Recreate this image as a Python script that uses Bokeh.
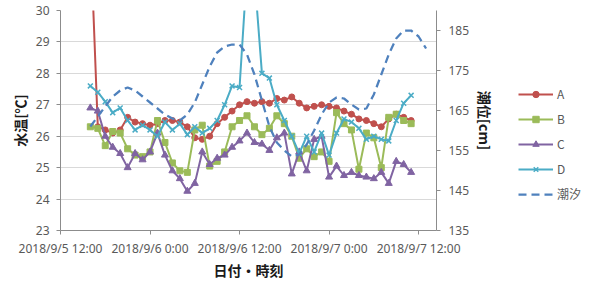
import pandas as pd
from bokeh.plotting import figure
from bokeh.layouts import row
from bokeh.models import Range1d, LinearAxis, FixedTicker, Legend, LegendItem
from bokeh.embed import file_html
from bokeh.resources import INLINE

# ---- data -------------------------------------------------------------
origin = pd.Timestamp("2018-09-05 12:00")
tick_times = ["2018-09-05 12:00", "2018-09-06 00:00", "2018-09-06 12:00",
              "2018-09-07 00:00", "2018-09-07 12:00"]
tick_labels = ["2018/9/5 12:00", "2018/9/6 0:00", "2018/9/6 12:00",
               "2018/9/7 0:00", "2018/9/7 12:00"]

times = pd.date_range("2018-09-05 16:00", periods=44, freq="h")
tide_times = pd.date_range("2018-09-05 16:00", periods=46, freq="h")

A = [32.5, 26.3, 26.2, 26.1, 26.2, 26.6, 26.45, 26.4, 26.35, 26.4, 26.5,
     26.5, 26.45, 26.3, 25.95, 25.9, 26.0, 26.4, 26.6, 26.8, 27.0, 27.1,
     27.05, 27.1, 27.05, 27.2, 27.15, 27.25, 27.05, 26.9, 26.95, 27.0,
     26.95, 26.9, 26.8, 26.7, 26.55, 26.5, 26.4, 26.3, 26.55, 26.7, 26.6, 26.5]
B = [26.3, 26.25, 25.7, 26.15, 26.1, 25.6, 25.4, 25.35, 25.5, 26.5, 25.8,
     25.15, 24.9, 24.85, 26.2, 26.35, 25.05, 25.2, 25.5, 26.3, 26.5, 26.65,
     26.3, 26.05, 26.25, 26.65, 26.4, 26.0, 25.3, 25.6, 25.35, 25.5, 25.2,
     26.75, 26.4, 26.2, 24.95, 26.1, 25.95, 25.0, 26.6, 26.7, 26.5, 26.4]
C = [26.9, 26.8, 26.0, 25.65, 25.45, 25.0, 25.45, 25.25, 25.5, 26.1, 25.4,
     24.9, 24.65, 24.25, 24.5, 25.5, 25.1, 25.3, 25.4, 25.65, 25.85, 26.1,
     25.8, 25.75, 25.55, 25.95, 26.1, 24.8, 25.5, 24.9, 25.9, 26.0, 24.7,
     25.05, 24.75, 24.85, 24.75, 24.7, 24.65, 24.85, 24.5, 25.2, 25.1, 24.85]
D = [27.6, 27.4, 27.1, 26.75, 26.9, 26.5, 26.2, 26.35, 26.2, 26.0, 26.45,
     26.2, 26.4, 26.05, 26.3, 26.1, 26.25, 26.5, 27.0, 27.6, 27.55, 31.3,
     31.1, 28.0, 27.85, 27.0, 26.5, 26.0, 25.45, 26.0, 25.5, 26.1, 25.4,
     26.1, 26.55, 26.45, 26.25, 25.9, 26.0, 25.9, 25.85, 26.5, 27.05, 27.3]
tide = [161, 163.5, 166, 168.5, 170, 170.75, 170, 168.5, 167, 165.5, 164,
        163, 162.5, 164, 167, 171.5, 176, 179.5, 181, 181.5, 181.5, 179,
        174, 167.5, 161, 157, 155, 153.5, 154, 156.5, 160, 164, 167, 168.25,
        168, 166.5, 165.25, 165.5, 169, 174, 179, 183, 185, 185, 183.5, 180.5]

series_names = ["A", "B", "C", "D", "潮汐"]
left_ticks = [23, 24, 25, 26, 27, 28, 29, 30]
right_ticks = [135, 145, 155, 165, 175, 185]

# ---- helpers ----------------------------------------------------------
def hours(ts):
    return [(pd.Timestamp(t) - origin) / pd.Timedelta(hours=1) for t in ts]

xh = hours(times)
xt = hours(tide_times)
xticks = hours(tick_times)

TICK_FONT = "Noto Sans"
CJK_FONT = "Noto Sans CJK JP"
GREY = "#595959"
AXIS = "#8c8c8c"

p = figure(width=498, height=282, output_backend="svg", toolbar_location=None,
           x_range=Range1d(0, 50.4), y_range=Range1d(23, 30),
           min_border_left=60, min_border_right=60,
           min_border_top=10, min_border_bottom=52)
p.extra_y_ranges = {"tide": Range1d(135, 190)}
p.outline_line_color = None

p.xgrid.visible = False
p.ygrid.grid_line_color = "#d9d9d9"
p.ygrid.grid_line_width = 1

ya = p.yaxis[0]
ya.ticker = FixedTicker(ticks=left_ticks)
ya.axis_label = "水温[℃]"

xa = p.xaxis[0]
xa.ticker = FixedTicker(ticks=xticks)
xa.major_label_overrides = {float(t): lab for t, lab in zip(xticks, tick_labels)}
xa.axis_label = "日付・時刻"

ra = LinearAxis(y_range_name="tide", ticker=FixedTicker(ticks=right_ticks),
                axis_label="潮位[cm]")
p.add_layout(ra, "right")

for ax in (ya, xa, ra):
    ax.axis_line_color = AXIS
    ax.major_tick_line_color = AXIS
    ax.major_tick_out = 4
    ax.major_tick_in = 0
    ax.minor_tick_line_color = None
    ax.major_label_text_font = TICK_FONT
    ax.major_label_text_font_size = "12px"
    ax.major_label_text_color = GREY
    ax.axis_label_text_font = CJK_FONT
    ax.axis_label_text_font_size = "14px"
    ax.axis_label_text_font_style = "bold"
    ax.axis_label_text_color = "#1a1a1a"

xa.major_label_standoff = 5
xa.axis_label_standoff = 0
ya.major_label_standoff = 7
ya.axis_label_standoff = 3
ra.major_label_standoff = 8
ra.axis_label_standoff = 3

# ---- series -----------------------------------------------------------
colors = ["#c0504d", "#9bbb59", "#8064a2", "#4bacc6", "#4f81bd"]
markers = ["circle", "square", "triangle", "x"]
msizes = [6, 6, 7, 7]


def draw(fig, visible=True):
    rs = []
    for vals, col, mk, ms in zip([A, B, C, D], colors, markers, msizes):
        r1 = fig.line(xh, vals, color=col, line_width=2, visible=visible)
        if mk == "x":
            r2 = fig.scatter(xh, vals, marker=mk, size=ms, line_color=col,
                             line_width=1.5, visible=visible)
        else:
            r2 = fig.scatter(xh, vals, marker=mk, size=ms, color=col,
                             visible=visible)
        rs.append([r1, r2])
    rt = fig.line(xt, tide, color=colors[4], line_width=2.25, line_dash="8 5",
                  y_range_name="tide", visible=visible)
    rs.append([rt])
    return rs


draw(p)

# ---- legend (separate panel to the right) ------------------------------
lg = figure(width=96, height=282, output_backend="svg", toolbar_location=None,
            x_axis_location=None, y_axis_location=None,
            x_range=Range1d(0, 50.4), y_range=Range1d(23, 30),
            min_border=0)
lg.extra_y_ranges = {"tide": Range1d(135, 190)}
lg.outline_line_color = None
lg.grid.visible = False

proxy = draw(lg, visible=False)
items = [LegendItem(label=name, renderers=rs) for name, rs in zip(series_names, proxy)]

legend = Legend(items=items, location=(20, 28))
legend.border_line_color = None
legend.background_fill_alpha = 0
legend.inactive_fill_alpha = 0
legend.padding = 0
legend.margin = 0
legend.glyph_width = 35
legend.glyph_height = 16
legend.label_height = 16
legend.spacing = 8
legend.label_standoff = 4
legend.label_text_font = CJK_FONT
legend.label_text_font_size = "12px"
legend.label_text_color = GREY
lg.add_layout(legend, "center")

open("out.html", "w").write(file_html(row(p, lg), INLINE))
